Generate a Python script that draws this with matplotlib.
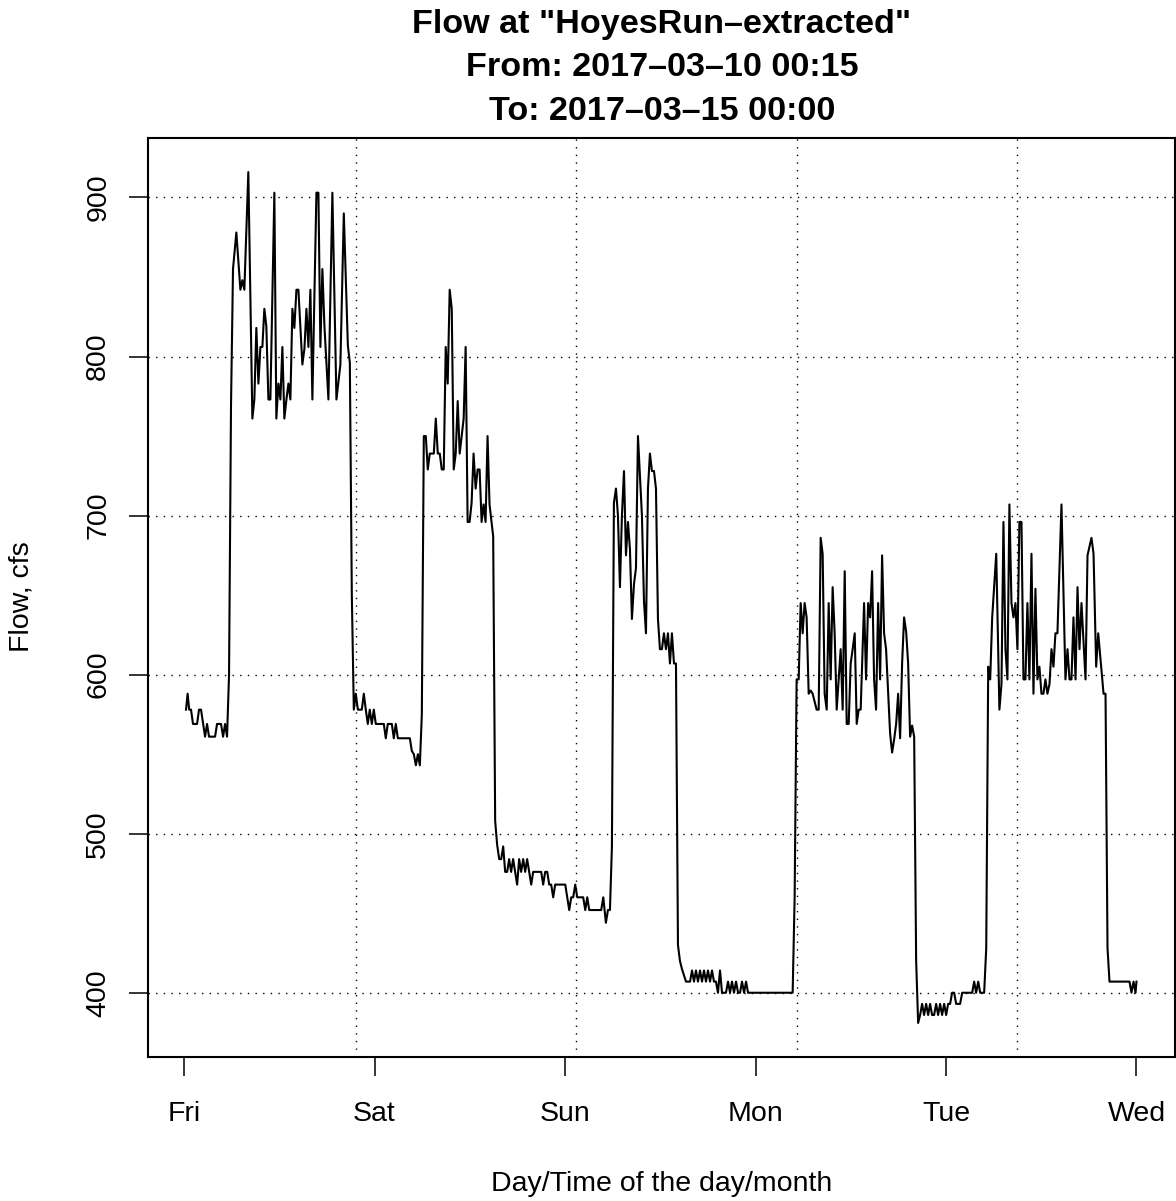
import matplotlib
matplotlib.use("Agg")
import matplotlib.pyplot as plt

plt.rcParams['font.family'] = ['Liberation Sans', 'DejaVu Sans']

# hours since Fri 2017-03-10 00:00, 15 min series
hours = [
    0.25, 0.45, 0.65, 0.88, 1.13, 1.64, 1.89, 2.14, 2.65, 2.90, 3.15, 3.91, 4.16, 4.66, 4.92, 5.17, 5.42,
    5.67, 5.92, 6.17, 6.59, 7.10, 7.35, 7.60, 8.10, 8.61, 8.86, 9.11, 9.37, 9.62, 9.87, 10.12, 10.37,
    10.63, 10.88, 11.38, 11.63, 11.89, 12.14, 12.39, 12.64, 12.90, 13.15, 13.40, 13.65, 13.90, 14.16,
    14.41, 14.91, 15.17, 15.42, 15.67, 15.92, 16.17, 16.68, 16.93, 17.18, 17.43, 17.69, 18.19, 18.69,
    19.20, 19.70, 20.13, 20.64, 20.89, 21.14, 21.39, 21.64, 21.90, 22.40, 22.65, 22.90, 23.15, 23.40,
    23.66, 23.91, 24.16, 25.17, 25.42, 25.67, 26.18, 26.43, 26.68, 26.94, 28.45, 28.70, 28.95, 29.21,
    29.46, 29.71, 29.96, 30.21, 30.46, 30.71, 30.96, 31.47, 31.72, 31.97, 32.22, 32.47, 32.72, 32.97,
    33.22, 33.47, 33.73, 33.98, 34.23, 34.48, 34.73, 35.23, 35.48, 35.73, 35.98, 36.23, 36.48, 36.74,
    36.99, 37.24, 37.49, 37.74, 37.99, 38.24, 38.49, 38.95, 39.20, 39.45, 39.71, 39.96, 40.21, 40.46,
    40.71, 40.96, 41.21, 41.46, 41.72, 41.97, 42.22, 42.47, 42.73, 42.98, 43.23, 43.74, 43.99, 45.00,
    45.25, 45.50, 45.76, 46.01, 46.26, 46.51, 46.76, 48.03, 48.28, 48.53, 48.78, 49.03, 49.29, 49.54,
    50.29, 50.55, 50.80, 51.05, 52.56, 52.82, 53.15, 53.41, 53.66, 53.91, 54.16, 54.42, 54.67, 54.92,
    55.17, 55.43, 55.68, 55.93, 56.18, 56.43, 56.69, 56.94, 57.19, 57.69, 57.95, 58.20, 58.45, 58.70,
    58.95, 59.21, 59.46, 59.71, 59.96, 60.21, 60.46, 60.72, 60.97, 61.22, 61.47, 61.73, 61.98, 62.23,
    62.48, 62.73, 63.24, 63.75, 64.00, 64.25, 64.50, 64.75, 65.01, 65.26, 65.51, 65.76, 66.01, 66.27,
    66.52, 66.77, 67.02, 67.27, 67.53, 67.78, 68.28, 68.54, 68.79, 69.04, 69.29, 69.55, 69.80, 70.05,
    70.30, 70.56, 70.81, 71.06, 76.68, 76.93, 77.18, 77.44, 77.69, 77.94, 78.19, 78.44, 78.70, 78.95,
    79.20, 79.45, 79.70, 79.96, 80.21, 80.46, 80.71, 80.97, 81.22, 81.47, 81.72, 81.97, 82.23, 82.48,
    82.73, 82.98, 83.24, 83.49, 83.74, 83.99, 84.24, 84.50, 84.75, 85.00, 85.25, 85.68, 85.93, 86.19,
    86.44, 86.69, 86.94, 87.19, 87.45, 87.70, 87.95, 88.20, 88.45, 88.96, 89.21, 89.46, 89.72, 89.97,
    90.22, 90.47, 90.72, 90.98, 91.23, 91.48, 91.73, 91.99, 92.24, 92.49, 92.74, 92.99, 93.24, 93.50,
    93.75, 94.00, 94.25, 94.50, 94.76, 95.01, 95.26, 95.51, 95.77, 96.02, 96.27, 96.52, 96.77, 97.03,
    97.28, 97.78, 98.04, 99.30, 99.55, 99.80, 100.06, 100.31, 100.81, 101.07, 101.32, 101.57, 101.82,
    102.33, 102.73, 102.99, 103.24, 103.49, 103.74, 103.99, 104.25, 104.50, 104.75, 105.00, 105.25,
    105.51, 105.76, 106.01, 106.26, 106.51, 106.77, 107.02, 107.27, 107.52, 107.77, 108.03, 108.28,
    108.53, 108.78, 109.04, 109.29, 109.54, 109.79, 110.04, 110.55, 111.05, 111.31, 111.56, 111.81,
    112.06, 112.32, 112.57, 112.82, 113.07, 113.58, 113.83, 114.33, 114.59, 114.92, 115.18, 115.85,
    116.10, 116.35, 116.60, 119.12, 119.37, 119.63, 119.88, 120.00,
]
flow_cfs = [
    578, 588, 578, 578, 569, 569, 578, 578, 561, 569, 561, 561, 569, 569, 561, 569, 561,
    600, 770, 855, 878, 842, 848, 842, 916, 761, 773, 818, 783, 806, 806, 830, 819,
    773, 773, 903, 761, 783, 773, 806, 761, 773, 783, 773, 830, 818, 842,
    842, 795, 805, 830, 806, 842, 773, 903, 903, 806, 855, 819, 773, 903,
    773, 795, 890, 807, 796, 650, 578, 588, 578, 578, 588, 578, 569, 578,
    569, 578, 569, 569, 560, 569, 569, 560, 569, 560, 560, 552, 550, 543,
    550, 543, 575, 750, 750, 729, 739, 739, 761, 739, 739, 729, 729, 806,
    783, 842, 830, 729, 739, 772, 739, 761, 806, 696, 696, 708, 739, 717,
    729, 729, 696, 707, 696, 750, 707, 687, 508, 493, 484, 484, 492, 476,
    476, 484, 476, 484, 476, 468, 484, 476, 484, 476, 484, 468, 476, 476,
    468, 476, 476, 468, 468, 460, 468, 468, 460, 452, 460, 460, 468, 460,
    460, 452, 460, 452, 452, 460, 444, 452, 452, 492, 708, 717, 700, 655,
    700, 728, 675, 696, 679, 635, 657, 667, 750, 700, 646, 626, 717, 739,
    728, 728, 717, 635, 616, 616, 626, 616, 626, 607, 626, 607, 607, 430,
    420, 415, 407, 407, 414, 407, 414, 407, 414, 407, 414, 407, 414, 407,
    414, 407, 407, 400, 414, 400, 400, 407, 400, 407, 400, 407, 400, 400,
    407, 400, 407, 400, 400, 460, 597, 597, 645, 626, 645, 636, 588, 590,
    588, 583, 578, 578, 686, 676, 588, 578, 645, 597, 655, 626, 578, 597,
    616, 578, 665, 569, 569, 607, 616, 626, 569, 578, 578, 645, 597, 645,
    636, 665, 597, 578, 645, 597, 675, 626, 616, 563, 551, 559, 569, 588,
    560, 607, 636, 627, 607, 561, 568, 561, 420, 381, 386, 393, 386, 393,
    386, 393, 386, 386, 393, 386, 393, 386, 393, 386, 393, 393, 400, 400,
    393, 393, 400, 400, 407, 400, 407, 400, 400, 428, 605, 597, 636,
    676, 578, 594, 696, 616, 597, 707, 645, 636, 645, 616, 696,
    696, 597, 597, 645, 597, 676, 588, 654, 597, 605, 588, 588,
    597, 588, 594, 616, 605, 626, 626, 707, 597, 616, 597, 597,
    636, 597, 655, 616, 645, 597, 675, 686, 676, 605, 626, 588,
    588, 428, 407, 407, 400, 407, 400, 407,
]

day_ticks = [0, 24, 48, 72, 96, 120]
day_labels = ["Fri", "Sat", "Sun", "Mon", "Tue", "Wed"]
flow_ticks = [400, 500, 600, 700, 800, 900]
# vertical grid at R's pretty() breaks of the time axis (every 100000 s)
vgrid_hours = [21.667, 49.444, 77.222, 105.0]

fig = plt.figure(figsize=(11.76, 12.01), dpi=100)
ax = fig.add_axes([148 / 1176, 1 - 1057 / 1201, 1026.5 / 1176, 919 / 1201])

for y in flow_ticks:
    ax.axhline(y, color="black", lw=1.0, ls=(0, (1, 4.5)), zorder=1)
for x in vgrid_hours:
    ax.axvline(x, color="black", lw=1.0, ls=(0, (1, 4.5)), zorder=1)

ax.plot(hours, flow_cfs, color="black", lw=1.5, zorder=2)

ax.set_xlim(-4.54, 124.79)
ax.set_ylim(359.6, 937.4)
ax.set_xticks(day_ticks)
ax.set_xticklabels(day_labels)
ax.set_yticks(flow_ticks)
ax.set_yticklabels([str(v) for v in flow_ticks], rotation=90, va="center")
ax.tick_params(axis="both", direction="out", length=13.5, width=1.1, labelsize=20.5)
ax.tick_params(axis="x", pad=18)
ax.tick_params(axis="y", pad=13)
for s in ax.spines.values():
    s.set_linewidth(1.5)

title_lines = ['Flow at "HoyesRun\u2013extracted"', "From: 2017\u201303\u201310 00:15", "To: 2017\u201303\u201315 00:00"]
for line, ypx in zip(title_lines, [24, 68, 111]):
    fig.text(662 / 1176, 1 - ypx / 1201, line, ha="center", va="center", fontsize=24.6, fontweight="bold")

fig.text(662 / 1176, 1 - 1184 / 1201, "Day/Time of the day/month", ha="center", va="center", fontsize=20.5)
fig.text(22 / 1176, 1 - 597 / 1201, "Flow, cfs", ha="center", va="center", rotation=90, fontsize=20.5)

fig.savefig("out.png", dpi=100)
